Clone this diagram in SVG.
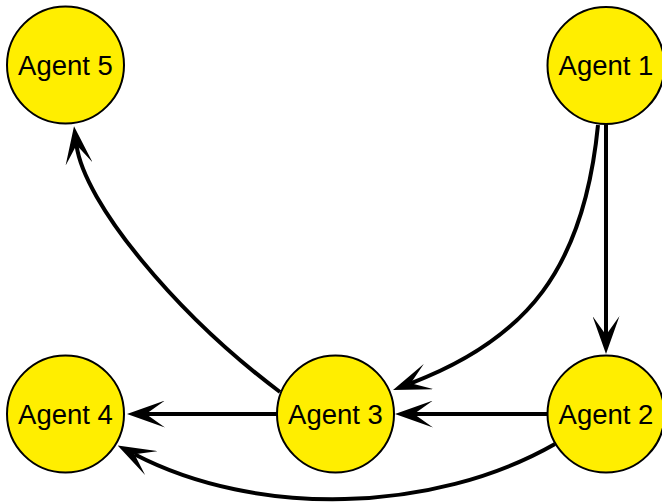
<svg xmlns="http://www.w3.org/2000/svg" width="662" height="502" viewBox="0 0 662 502">
<style>
.node circle{fill:#ffee00;stroke:#000;stroke-width:2}
.node text{font-family:"Liberation Sans",Arial,sans-serif;font-size:27.5px;text-anchor:middle;fill:#000}
.edge{fill:none;stroke:#000;stroke-width:4;marker-end:url(#arr)}
</style>
<defs>
<marker id="arr" markerUnits="userSpaceOnUse" viewBox="0 0 38 27" markerWidth="38" markerHeight="27" refX="19" refY="13.5" orient="auto">
<path d="M38,13.5 L0,0 L19,13.5 L0,27 Z" fill="#000"/>
</marker>
</defs>
<g id="connectors">
<path class="edge" d="M606,124 L606,335"/>
<path class="edge" d="M598,125 C584,268.3 527,339.2 410.8,383.3"/>
<path class="edge" d="M547,414 L414,414"/>
<path class="edge" d="M277,414 L146,414"/>
<path class="edge" d="M555,444 C433.2,513.6 256.6,517.9 134.5,454.3"/>
<path class="edge" d="M280,392 C175.6,313.7 84.1,202.6 76.5,145"/>
</g>
<g id="agent5" class="node"><circle cx="65.5" cy="65" r="58.5"/><text x="65.5" y="74.5">Agent 5</text></g>
<g id="agent1" class="node"><circle cx="606" cy="65.5" r="58.5"/><text x="606" y="75">Agent 1</text></g>
<g id="agent4" class="node"><circle cx="65.5" cy="414" r="58.5"/><text x="65.5" y="423.5">Agent 4</text></g>
<g id="agent3" class="node"><circle cx="335.5" cy="414" r="58.5"/><text x="335.5" y="423.5">Agent 3</text></g>
<g id="agent2" class="node"><circle cx="606" cy="414" r="58.5"/><text x="606" y="423.5">Agent 2</text></g>
</svg>
